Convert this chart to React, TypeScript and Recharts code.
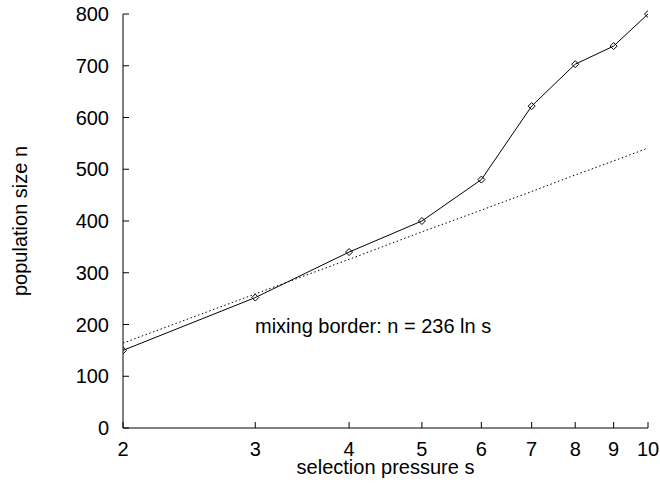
import { LineChart, Line, XAxis, YAxis } from "recharts";

const pressures = [2, 3, 4, 5, 6, 7, 8, 9, 10];
const popSizes = [150, 252, 340, 400, 480, 622, 703, 738, 800];
const mixingBorder = [164, 259, 326, 379, 421, 457, 489, 516, 541];
const xTicks = [2, 3, 4, 5, 6, 7, 8, 9, 10];
const yTicks = [0, 100, 200, 300, 400, 500, 600, 700, 800];

const chartData = pressures.map((s, i) => ({
  s,
  n: popSizes[i],
  border: mixingBorder[i],
}));

const FONT = "'Liberation Sans', Arial, Helvetica, sans-serif";
const tickStyle = { fontSize: 20, fill: "#000" };
const black = { stroke: "#000" };

function Diamond(props: any) {
  const { cx, cy, index } = props;
  if (cx == null || cy == null) return null;
  const r = 3.5;
  return (
    <path
      key={`d-${index}`}
      d={`M${cx},${cy - r}L${cx + r},${cy}L${cx},${cy + r}L${cx - r},${cy}Z`}
      fill="none"
      stroke="#000"
      strokeWidth={1}
    />
  );
}

const blank = () => "";

export default function App() {
  return (
    <div style={{ position: "absolute", left: 0, top: 0, width: 660, height: 486, background: "#fff", fontFamily: FONT }}>
      <LineChart
        width={660}
        height={486}
        data={chartData}
        margin={{ top: 14, right: 12, bottom: 0, left: 0 }}
        style={{ fontFamily: FONT }}
      >
        <XAxis
          dataKey="s"
          type="number"
          scale="log"
          domain={[2, 10]}
          ticks={xTicks}
          interval={0}
          allowDataOverflow
          height={58}
          tickSize={-6}
          tickMargin={20}
          tick={tickStyle}
          tickLine={black}
          axisLine={black}
          label={{ value: "selection pressure s", position: "insideBottom", offset: 12, fontSize: 20, fill: "#000" }}
        />
        <XAxis
          xAxisId="top"
          orientation="top"
          dataKey="s"
          type="number"
          scale="log"
          domain={[2, 10]}
          ticks={xTicks}
          interval={0}
          allowDataOverflow
          height={0}
          tickSize={-6}
          tickFormatter={blank}
          tickLine={black}
          axisLine={black}
        />
        <YAxis
          type="number"
          domain={[0, 800]}
          ticks={yTicks}
          interval={0}
          width={123}
          tickSize={-6}
          tickMargin={20}
          tick={tickStyle}
          tickLine={black}
          axisLine={black}
          label={{
            value: "population size n",
            angle: -90,
            position: "insideLeft",
            offset: 20,
            fontSize: 20,
            fill: "#000",
            style: { textAnchor: "middle" },
          }}
        />
        <YAxis
          yAxisId="right"
          orientation="right"
          type="number"
          domain={[0, 800]}
          ticks={yTicks}
          interval={0}
          width={0}
          tickSize={-6}
          tickFormatter={blank}
          tickLine={black}
          axisLine={black}
        />
        <Line
          dataKey="border"
          type="linear"
          stroke="#000"
          strokeWidth={1}
          strokeDasharray="1.5 2.5"
          dot={false}
          activeDot={false}
          isAnimationActive={false}
        />
        <Line
          dataKey="n"
          type="linear"
          stroke="#000"
          strokeWidth={1}
          dot={<Diamond />}
          activeDot={false}
          isAnimationActive={false}
        />
      </LineChart>
      <svg width={660} height={486} style={{ position: "absolute", left: 0, top: 0, pointerEvents: "none" }}>
        <text x={255} y={333} fontSize={20} fill="#000" fontFamily={FONT}>
          mixing border: n = 236 ln s
        </text>
      </svg>
    </div>
  );
}
